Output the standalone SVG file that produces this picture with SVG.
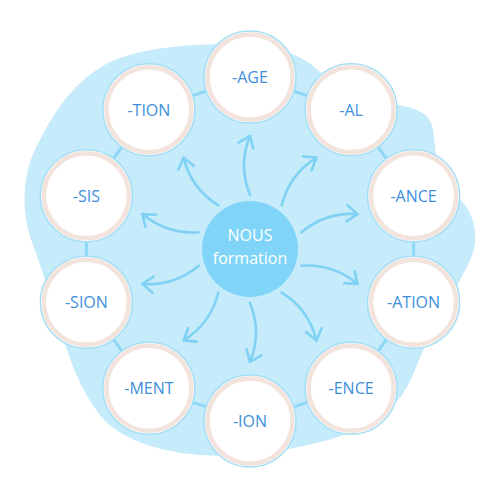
<svg xmlns="http://www.w3.org/2000/svg" width="500" height="500" viewBox="0 0 500 500">
<style>
.ring{fill:#ffffff;stroke:#a3def6;stroke-width:1.5}
.peach{fill:none;stroke:#f2e4dc;stroke-width:4.5}
.lbl{font-family:"Open Sans","Noto Sans","Liberation Sans",sans-serif;font-size:16px;fill:#3d8fdc;text-anchor:middle;dominant-baseline:central}
.ctr{font-family:"Open Sans","Noto Sans","Liberation Sans",sans-serif;font-size:16px;fill:#ffffff;text-anchor:middle}
.arr{fill:none;stroke:#7fd2f3;stroke-width:2.6;stroke-linecap:round;marker-end:url(#ah)}
</style>
<defs>
<marker id="ah" markerUnits="userSpaceOnUse" markerWidth="30" markerHeight="30" viewBox="-15 -15 30 30" refX="0" refY="0" orient="auto" overflow="visible">
<path d="M-10.5,-8 L0,0 L-10.5,8" fill="none" stroke="#7fd2f3" stroke-width="2.6" stroke-linecap="round" stroke-linejoin="round"/>
</marker>
</defs>
<rect width="500" height="500" fill="#ffffff"/>
<path id="blob" fill="#c6ebfb" d="M 33 245 C 20 210, 22 170, 40 140 C 55 110, 75 80, 110 62 C 140 48, 190 44, 230 44 C 270 44, 300 52, 320 72 L 380 100 C 400 108, 425 105, 432 125 C 438 150, 432 180, 455 195 C 475 210, 482 240, 468 265 C 450 300, 430 330, 415 370 C 400 410, 370 430, 320 442 C 280 452, 240 458, 200 455 C 160 452, 120 440, 100 415 C 80 390, 70 360, 62 335 C 52 300, 42 270, 33 245 Z"/>
<g id="connectors">
<polygon points="250,77 351.1,109.8 413.6,195.8 413.6,302.2 351.1,388.2 250,421 148.9,388.2 86.4,302.2 86.4,195.8 148.9,109.8" fill="none" stroke="#8fd8f5" stroke-width="3"/>
<path class="arr" d="M250,195 Q238,164.5 250,136"/>
<path class="arr" d="M281.7,205.3 Q289.4,174.4 316.4,157.6"/>
<path class="arr" d="M301.4,232.3 Q325.7,211.8 357.5,214.1"/>
<path class="arr" d="M301.4,265.7 Q333.1,263.4 357.5,283.9"/>
<path class="arr" d="M281.7,292.7 Q308.8,309.4 316.4,340.4"/>
<path class="arr" d="M250,303 Q262,332.5 250,362"/>
<path class="arr" d="M218.3,292.7 Q210.6,323.6 183.6,340.4"/>
<path class="arr" d="M198.6,265.7 Q174.3,286.2 142.5,283.9"/>
<path class="arr" d="M198.6,232.3 Q166.9,234.6 142.5,214.1"/>
<path class="arr" d="M218.3,205.3 Q191.2,188.6 183.6,157.6"/>
</g>
<g id="center">
<circle cx="250" cy="249" r="48" fill="#80d4f7"/>
<text class="ctr" x="250" y="241">NOUS</text>
<text class="ctr" x="250" y="264">formation</text>
</g>
<g id="n-age"><circle class="ring" cx="250" cy="77" r="46"/><circle class="peach" cx="250" cy="77" r="42.5"/><text class="lbl" x="250" y="77">-AGE</text></g>
<g id="n-al"><circle class="ring" cx="351.1" cy="109.8" r="46"/><circle class="peach" cx="351.1" cy="109.8" r="42.5"/><text class="lbl" x="351.1" y="109.8">-AL</text></g>
<g id="n-ance"><circle class="ring" cx="413.6" cy="195.8" r="46"/><circle class="peach" cx="413.6" cy="195.8" r="42.5"/><text class="lbl" x="413.6" y="195.8">-ANCE</text></g>
<g id="n-ation"><circle class="ring" cx="413.6" cy="302.2" r="46"/><circle class="peach" cx="413.6" cy="302.2" r="42.5"/><text class="lbl" x="413.6" y="302.2">-ATION</text></g>
<g id="n-ence"><circle class="ring" cx="351.1" cy="388.2" r="46"/><circle class="peach" cx="351.1" cy="388.2" r="42.5"/><text class="lbl" x="351.1" y="388.2">-ENCE</text></g>
<g id="n-ion"><circle class="ring" cx="250" cy="421" r="46"/><circle class="peach" cx="250" cy="421" r="42.5"/><text class="lbl" x="250" y="421">-ION</text></g>
<g id="n-ment"><circle class="ring" cx="148.9" cy="388.2" r="46"/><circle class="peach" cx="148.9" cy="388.2" r="42.5"/><text class="lbl" x="148.9" y="388.2">-MENT</text></g>
<g id="n-sion"><circle class="ring" cx="86.4" cy="302.2" r="46"/><circle class="peach" cx="86.4" cy="302.2" r="42.5"/><text class="lbl" x="86.4" y="302.2">-SION</text></g>
<g id="n-sis"><circle class="ring" cx="86.4" cy="195.8" r="46"/><circle class="peach" cx="86.4" cy="195.8" r="42.5"/><text class="lbl" x="86.4" y="195.8">-SIS</text></g>
<g id="n-tion"><circle class="ring" cx="148.9" cy="109.8" r="46"/><circle class="peach" cx="148.9" cy="109.8" r="42.5"/><text class="lbl" x="148.9" y="109.8">-TION</text></g>
</svg>
